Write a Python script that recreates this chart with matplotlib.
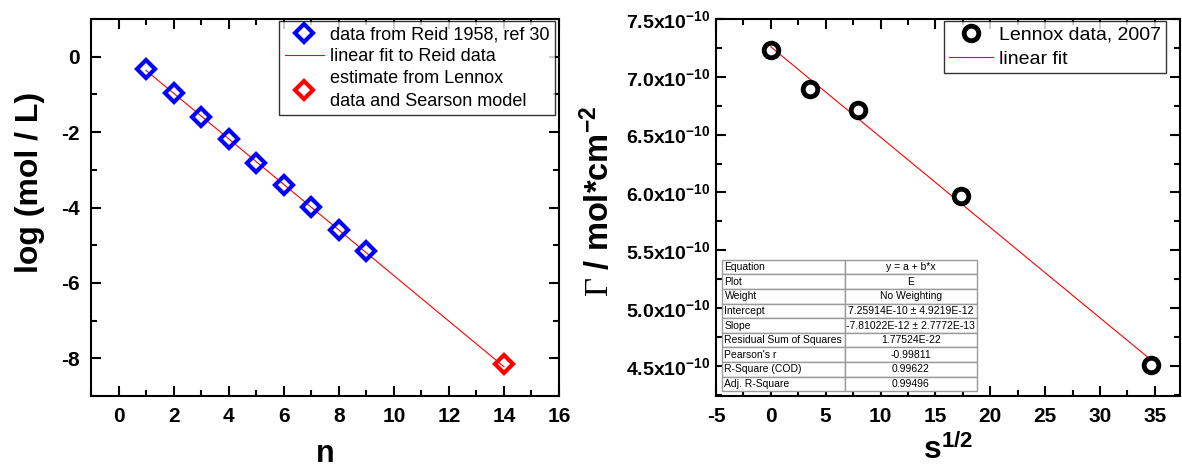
import numpy as np
import matplotlib
matplotlib.use("Agg")
import matplotlib.pyplot as plt
from matplotlib.ticker import MultipleLocator, FixedLocator

plt.rcParams['font.family'] = ['Liberation Sans', 'DejaVu Sans']
plt.rcParams['axes.unicode_minus'] = False
plt.rcParams['mathtext.fontset'] = 'custom'
plt.rcParams['mathtext.rm'] = 'Liberation Serif'
plt.rcParams['mathtext.bf'] = 'Liberation Sans:bold'
plt.rcParams['mathtext.it'] = 'Liberation Sans:italic'

# ---- left panel data ----
reid_n = [1, 2, 3, 4, 5, 6, 7, 8, 9]
reid_logc = [-0.32, -0.97, -1.59, -2.19, -2.81, -3.41, -3.99, -4.60, -5.16]
est_n = [14]
est_logc = [-8.15]

# ---- right panel data ----
lennox_s = [0.0, 3.61, 7.94, 17.3, 34.64]
lennox_gamma = [7.234e-10, 6.894e-10, 6.709e-10, 5.970e-10, 4.509e-10]
fit_intercept = 7.25914e-10
fit_slope = -7.81022e-12

right_yticks = [4.5e-10, 5.0e-10, 5.5e-10, 6.0e-10, 6.5e-10, 7.0e-10, 7.5e-10]
right_yticklabels = [r'4.5x10$^{\mathbf{-10}}$', r'5.0x10$^{\mathbf{-10}}$', r'5.5x10$^{\mathbf{-10}}$',
                     r'6.0x10$^{\mathbf{-10}}$', r'6.5x10$^{\mathbf{-10}}$', r'7.0x10$^{\mathbf{-10}}$',
                     r'7.5x10$^{\mathbf{-10}}$']

table_rows = ["Equation", "Plot", "Weight", "Intercept", "Slope",
              "Residual Sum of Squares", "Pearson's r", "R-Square (COD)", "Adj. R-Square"]
table_vals = ["y = a + b*x", "E", "No Weighting", "7.25914E-10 \u00b1 4.9219E-12",
              "-7.81022E-12 \u00b1 2.7772E-13", "1.77524E-22", "-0.99811", "0.99622", "0.99496"]

W, H = 1182, 467
fig = plt.figure(figsize=(W / 100, H / 100), dpi=100)

def style_axes(ax):
    for sp in ax.spines.values():
        sp.set_linewidth(1.5)
    ax.tick_params(which='both', direction='in', top=True, right=True, width=1.5)
    ax.tick_params(which='major', length=7, labelsize=15, pad=8)
    ax.tick_params(which='minor', length=4)
    for lab in ax.get_xticklabels() + ax.get_yticklabels():
        lab.set_fontweight('bold')

# Left axes
axL = fig.add_axes([91 / W, (H - 396) / H, (559 - 91) / W, (396 - 19) / H])
coef = np.polyfit(reid_n, reid_logc, 1)
xfit = np.array([reid_n[0], est_n[0]])
axL.plot(reid_n, reid_logc, linestyle='none', marker='D', ms=9.5, mew=3,
         mfc='none', mec='#0000ff', label='data from Reid 1958, ref 30', zorder=3)
axL.plot(xfit, np.polyval(coef, xfit), color='#ff0000', lw=0.8,
         label='linear fit to Reid data', zorder=2)
axL.plot(est_n, est_logc, linestyle='none', marker='D', ms=9.5, mew=3,
         mfc='none', mec='#ff0000', label='estimate from Lennox\ndata and Searson model', zorder=3)
axL.set_xlim(-1, 16)
axL.set_ylim(-9, 1)
axL.xaxis.set_major_locator(MultipleLocator(2))
axL.xaxis.set_minor_locator(MultipleLocator(1))
axL.yaxis.set_major_locator(MultipleLocator(2))
axL.yaxis.set_minor_locator(MultipleLocator(1))
style_axes(axL)
axL.set_xlabel('n', fontsize=22, fontweight='bold', labelpad=9)
axL.set_ylabel('log (mol / L)', fontsize=23, fontweight='bold')
axL.yaxis.set_label_coords(-0.098, 0.566)
legL = axL.legend(loc='upper right', bbox_to_anchor=(0.991, 0.995), borderaxespad=0,
                  fontsize=13, frameon=True, fancybox=False, edgecolor='black',
                  handlelength=2.15, handletextpad=0.35, borderpad=0.3,
                  labelspacing=0.28)
for t in legL.get_texts():
    t.set_linespacing(1.4)
legL.get_frame().set_linewidth(1.0)

# Right axes
axR = fig.add_axes([716 / W, (H - 396) / H, (1180 - 716) / W, (396 - 19) / H])
xs = np.array([lennox_s[0], lennox_s[-1]])
axR.plot(lennox_s, lennox_gamma, linestyle='none', marker='o', ms=10.5, mew=3.5,
         mfc='none', mec='black', label='Lennox data, 2007', zorder=3)
axR.plot(xs, fit_intercept + fit_slope * xs, color='#ff0000', lw=0.8,
         label='linear fit', zorder=2)
axR.set_xlim(-5, 37.3)
axR.set_ylim(4.24e-10, 7.5e-10)
axR.xaxis.set_major_locator(MultipleLocator(5))
axR.xaxis.set_minor_locator(MultipleLocator(2.5))
axR.yaxis.set_major_locator(FixedLocator(right_yticks))
axR.yaxis.set_minor_locator(MultipleLocator(0.25e-10))
axR.set_yticklabels(right_yticklabels)
style_axes(axR)
axR.tick_params(axis='y', which='major', pad=4, labelsize=14)
axR.set_xlabel(r's$^{\mathbf{1/2}}$', fontsize=23, fontweight='bold', labelpad=6)
axR.set_ylabel(r'$\mathrm{\Gamma}$ / mol*cm$^{\mathbf{-2}}$', fontsize=23.5,
               fontweight='bold')
axR.yaxis.set_label_coords(-0.215, 0.515)
legR = axR.legend(loc='upper right', bbox_to_anchor=(0.970, 0.995), borderaxespad=0,
                  fontsize=14, frameon=True, fancybox=False, edgecolor='black',
                  handlelength=2.27, handletextpad=0.3, borderpad=0.25,
                  labelspacing=0.35)
legR.get_frame().set_linewidth(1.0)

tbl = axR.table(cellText=[[r, v] for r, v in zip(table_rows, table_vals)],
                cellLoc='center', colWidths=[0.48, 0.52],
                bbox=[0.013, 0.013, 0.55, 0.348])
tbl.auto_set_font_size(False)
tbl.set_fontsize(7.5)
for (r, c), cell in tbl.get_celld().items():
    cell.set_edgecolor('#9a9a9a')
    cell.set_linewidth(1.0)
    cell.set_facecolor('white')
    if c == 0:
        cell.get_text().set_ha('left')
        cell.PAD = 0.02
tbl.set_zorder(5)

fig.savefig('out.png', dpi=100)
